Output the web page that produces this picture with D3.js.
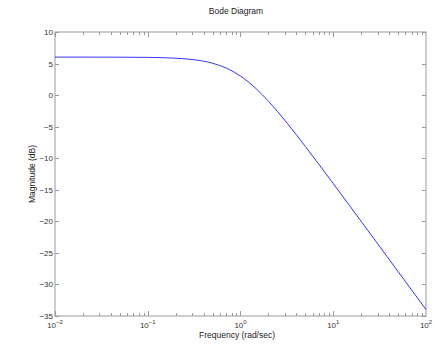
<!DOCTYPE html>
<html><head><meta charset="utf-8">
<script src="https://cdn.jsdelivr.net/npm/d3@7"></script>
<style>body{margin:0;background:#fff}svg{display:block;font-family:"Liberation Sans",Arial,sans-serif}</style>
</head><body><svg id="c" width="436" height="344"></svg>
<script>
const freq = [0.01,0.02,0.05,0.1,0.15,0.2,0.3,0.4,0.5,0.7,0.85,1,1.2,1.5,2,2.5,3,4,5,7,10,15,20,30,50,100];
const magDb = [6.02,6.02,6.01,5.98,5.92,5.85,5.64,5.38,5.05,4.29,3.66,3.01,2.15,0.91,-0.97,-2.58,-3.98,-6.28,-8.13,-10.97,-14.02,-17.52,-20.01,-23.53,-27.96,-33.98];
const yTicks = [10,5,0,-5,-10,-15,-20,-25,-30,-35];
const xDecades = [-2,-1,0,1,2];
const title = "Bode Diagram", xLabel = "Frequency  (rad/sec)", yLabel = "Magnitude (dB)";

const svg = d3.select("#c");
const L=55,R=426,T=32,B=316;
const x = d3.scaleLog().domain([0.01,100]).range([L,R]);
const y = d3.scaleLinear().domain([-35,10]).range([B,T]);
const axC="#9a9a9a", txC="#333";

svg.append("rect").attr("x",L).attr("y",T).attr("width",R-L).attr("height",B-T).attr("fill","#fff").attr("stroke",axC).attr("stroke-width",1);

const g=svg.append("g").attr("stroke",axC).attr("stroke-width",1);
for(let d=-2; d<2; d++){
  for(let m=1;m<10;m++){
    const v=m*Math.pow(10,d); const px=Math.round(x(v))+0.5; const len=m===1?5:3;
    g.append("line").attr("x1",px).attr("x2",px).attr("y1",B).attr("y2",B-len);
    g.append("line").attr("x1",px).attr("x2",px).attr("y1",T).attr("y2",T+len);
  }
}
yTicks.forEach(v=>{const py=Math.round(y(v))+0.5;
  g.append("line").attr("x1",L).attr("x2",L+4).attr("y1",py).attr("y2",py);
  g.append("line").attr("x1",R).attr("x2",R-4).attr("y1",py).attr("y2",py);
});

yTicks.forEach(v=>{
  svg.append("text").attr("x",L-2).attr("y",y(v)+3).attr("text-anchor","end").attr("font-size",8).attr("fill",txC)
   .text(v<0?"\u2212"+Math.abs(v):String(v));
});
xDecades.forEach(d=>{
  const t=svg.append("text").attr("x",x(Math.pow(10,d))).attr("y",B+12).attr("text-anchor","middle").attr("font-size",8).attr("fill",txC);
  t.append("tspan").text("10");
  t.append("tspan").attr("dy",-4).attr("font-size",6).text(d<0?"\u2212"+Math.abs(d):String(d));
});

const line=d3.line().x((d,i)=>x(freq[i])).y(d=>y(d)).curve(d3.curveMonotoneX);
svg.append("path").datum(magDb).attr("d",line).attr("fill","none").attr("stroke","#0000ff").attr("stroke-width",0.8);

svg.append("text").attr("x",236).attr("y",14).attr("text-anchor","middle").attr("font-size",8.5).attr("fill","#222").text(title);
svg.append("text").attr("x",237).attr("y",338).attr("text-anchor","middle").attr("font-size",8.5).attr("fill","#222").text(xLabel);
svg.append("text").attr("transform","translate(35,174) rotate(-90)").attr("text-anchor","middle").attr("font-size",8.5).attr("fill","#222").text(yLabel);
</script></body></html>
